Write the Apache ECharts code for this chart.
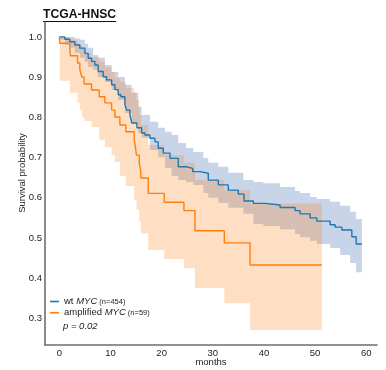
<!DOCTYPE html>
<html><head><meta charset="utf-8">
<script src="https://cdn.jsdelivr.net/npm/echarts@6/dist/echarts.min.js"></script>
<style>html,body{margin:0;padding:0;background:#fff}#c{width:386px;height:370px}</style>
</head><body><div id="c"></div>
<script>
// ---- data ----
const xTicks = [0, 10, 20, 30, 40, 50, 60];
const yTicks = [0.3, 0.4, 0.5, 0.6, 0.7, 0.8, 0.9, 1.0];
const groupNames = ['wt', 'amplified'];
const geneName = 'MYC';
const groupCounts = [454, 59];
const pValueText = 'p = 0.02';

// wt MYC Kaplan-Meier estimate (months, survival)
const wtTime = [0, 1.08, 2.05, 3.03, 4.01, 4.99, 5.64, 6.30, 6.95, 7.59, 8.57, 9.24, 10.22, 10.86, 11.51, 12.04, 12.82, 13.15, 13.80, 14.19, 15.17, 16.09, 16.73, 17.71, 18.69, 19.33, 20.31, 21.64, 23.25, 24.89, 26.07, 27.50, 29.12, 31.08, 33.03, 34.99, 36.11, 37.93, 40.22, 43.15, 46.09, 47.06, 49.02, 50.33, 52.94, 53.91, 55.23, 57.18, 58.02, 59.14];
const wtSurv = [1.0, 0.994, 0.988, 0.980, 0.972, 0.959, 0.947, 0.939, 0.930, 0.914, 0.901, 0.893, 0.881, 0.869, 0.856, 0.851, 0.831, 0.818, 0.806, 0.786, 0.774, 0.761, 0.756, 0.748, 0.739, 0.723, 0.711, 0.698, 0.677, 0.673, 0.665, 0.661, 0.644, 0.632, 0.619, 0.609, 0.592, 0.586, 0.582, 0.576, 0.568, 0.560, 0.550, 0.542, 0.533, 0.527, 0.520, 0.503, 0.485, 0.485];
// wt MYC confidence band
const wtBandTime = [0, 1.08, 2.05, 3.03, 4.01, 4.99, 5.64, 6.61, 7.59, 8.90, 10.22, 11.51, 12.82, 14.13, 15.42, 16.09, 17.71, 19.33, 20.65, 21.96, 23.25, 24.76, 26.18, 28.14, 29.12, 31.08, 33.03, 35.97, 37.93, 39.88, 43.15, 46.09, 47.06, 49.02, 50.33, 52.94, 54.89, 56.85, 58.02, 59.14];
const wtBandUpper = [1.0, 1.0, 1.0, 0.996, 0.993, 0.983, 0.973, 0.955, 0.948, 0.930, 0.913, 0.900, 0.881, 0.861, 0.826, 0.806, 0.789, 0.774, 0.764, 0.756, 0.736, 0.724, 0.714, 0.699, 0.687, 0.677, 0.662, 0.644, 0.639, 0.636, 0.627, 0.617, 0.612, 0.602, 0.597, 0.590, 0.580, 0.565, 0.547, 0.547];
const wtBandLower = [0.993, 0.980, 0.973, 0.960, 0.948, 0.938, 0.925, 0.918, 0.900, 0.888, 0.868, 0.843, 0.811, 0.784, 0.761, 0.749, 0.719, 0.701, 0.674, 0.654, 0.644, 0.639, 0.632, 0.612, 0.600, 0.587, 0.575, 0.560, 0.535, 0.530, 0.522, 0.510, 0.502, 0.493, 0.485, 0.475, 0.458, 0.438, 0.415, 0.415];

// amplified MYC Kaplan-Meier estimate
const ampTime = [0, 0.10, 2.05, 2.15, 3.56, 4.01, 4.40, 4.85, 6.30, 7.79, 8.90, 10.22, 10.86, 11.84, 13.01, 14.64, 14.87, 15.07, 15.62, 15.89, 15.95, 17.38, 20.51, 24.36, 26.52, 32.25, 37.28, 51.31];
const ampSurv = [1.0, 0.984, 0.968, 0.953, 0.935, 0.918, 0.900, 0.883, 0.868, 0.851, 0.836, 0.818, 0.801, 0.781, 0.764, 0.746, 0.726, 0.706, 0.687, 0.669, 0.649, 0.611, 0.589, 0.568, 0.518, 0.488, 0.433, 0.433];
// amplified MYC confidence band
const ampBandTime = [0, 0.10, 2.05, 3.56, 4.01, 4.40, 4.85, 6.30, 7.79, 8.90, 10.22, 10.86, 11.84, 13.01, 14.64, 15.07, 15.62, 15.95, 17.38, 20.51, 24.36, 26.52, 32.25, 37.28, 51.31];
const ampBandUpper = [1.0, 1.0, 0.993, 0.985, 0.978, 0.970, 0.960, 0.950, 0.938, 0.925, 0.913, 0.898, 0.888, 0.873, 0.863, 0.843, 0.806, 0.781, 0.731, 0.706, 0.687, 0.644, 0.619, 0.585, 0.585];
const ampBandLower = [1.0, 0.891, 0.861, 0.836, 0.818, 0.801, 0.791, 0.776, 0.744, 0.726, 0.706, 0.689, 0.654, 0.629, 0.595, 0.570, 0.540, 0.512, 0.470, 0.448, 0.425, 0.376, 0.338, 0.271, 0.271];

// ---- chart ----
const FONT = '"Liberation Sans", Arial, sans-serif';
const BLUE = '#1f77b4', ORANGE = '#ff7f0e';
const pairs = (xs, ys) => xs.map((x, i) => [x, ys[i]]);

// confidence band as one step-shaped polygon, positioned through the axes (api.coord)
function bandSeries(name, times, lower, upper, fill) {
  const rows = times.map((t, i) => [t, lower[i], upper[i]]);
  return {
    name: name, type: 'custom', silent: true, z: 1,
    encode: { x: 0, y: [1, 2] },
    data: rows,
    renderItem: function (params, api) {
      if (params.dataIndex !== 0) return null;
      const top = [], bot = [];
      for (let i = 0; i < rows.length; i++) {
        const tNext = i + 1 < rows.length ? rows[i + 1][0] : rows[i][0];
        top.push(api.coord([rows[i][0], rows[i][2]]), api.coord([tNext, rows[i][2]]));
        bot.push(api.coord([rows[i][0], rows[i][1]]), api.coord([tNext, rows[i][1]]));
      }
      return {
        type: 'polygon',
        shape: { points: top.concat(bot.reverse()) },
        style: { fill: fill, stroke: null }
      };
    }
  };
}

const legendNames = groupNames.map(g => g + ' ' + geneName);

const chart = echarts.init(document.getElementById('c'), null, { renderer: 'canvas' });
chart.setOption({
  animation: false,
  backgroundColor: '#fff',
  textStyle: { fontFamily: FONT },
  grid: { left: 45, right: 9, top: 22, bottom: 25, containLabel: false, outerBoundsMode: 'none' },
  xAxis: {
    type: 'value', min: -2.8, max: 62.1,
    axisLine: { onZero: false, lineStyle: { color: '#6e6e6e', width: 1.6 } },
    axisTick: { show: false },
    splitLine: { show: false },
    axisLabel: { customValues: xTicks, fontSize: 9.5, color: '#222', margin: 3, fontFamily: FONT },
    name: 'months', nameLocation: 'middle', nameGap: 12, nameMoveOverlap: false,
    nameTextStyle: { fontSize: 9.5, color: '#222', fontFamily: FONT }
  },
  yAxis: {
    type: 'value', min: 0.234, max: 1.037,
    axisLine: { show: true, onZero: false, lineStyle: { color: '#6e6e6e', width: 1.6 } },
    axisTick: { show: false },
    splitLine: { show: false },
    axisLabel: { customValues: yTicks, fontSize: 9.5, color: '#222', margin: 3, fontFamily: FONT,
      formatter: v => v.toFixed(1) }
  },
  legend: {
    orient: 'vertical', left: 50, top: 296.5, padding: 0,
    data: legendNames,
    icon: 'rect', itemWidth: 9, itemHeight: 1.6, itemGap: 1.2,
    textStyle: {
      fontFamily: FONT, color: '#222',
      rich: {
        a: { fontSize: 9.5, lineHeight: 11, color: '#222', fontFamily: FONT },
        i: { fontSize: 9.5, lineHeight: 11, fontStyle: 'italic', color: '#222', fontFamily: FONT },
        s: { fontSize: 7.5, lineHeight: 11, color: '#222', fontFamily: FONT }
      }
    },
    formatter: name => {
      const k = legendNames.indexOf(name);
      return '{a|' + groupNames[k] + ' }{i|' + geneName + '}{s| (n=' + groupCounts[k] + ')}';
    }
  },
  graphic: [
    { type: 'text', left: 43, top: 9,
      style: { text: 'TCGA-HNSC', fontSize: 12.2, fontWeight: 'bold', fill: '#111', fontFamily: FONT } },
    { type: 'line', shape: { x1: 43, y1: 21.5, x2: 116, y2: 21.5 }, style: { stroke: '#111', lineWidth: 1 } },
    { type: 'text', x: 22, y: 173, rotation: Math.PI / 2,
      style: { text: 'Survival probability', fontSize: 9.5, fill: '#222', fontFamily: FONT,
        textAlign: 'center', textVerticalAlign: 'middle' } },
    { type: 'text', left: 63, top: 321.5,
      style: { text: pValueText, fontSize: 9.5, fontStyle: 'italic', fill: '#222', fontFamily: FONT } }
  ],
  series: [
    bandSeries('wt band', wtBandTime, wtBandLower, wtBandUpper, 'rgb(200,212,232)'),
    bandSeries('amp band', ampBandTime, ampBandLower, ampBandUpper, 'rgba(255,127,14,0.25)'),
    { name: legendNames[0], type: 'line', step: 'end', symbol: 'none', color: BLUE,
      lineStyle: { color: BLUE, width: 1.4 }, data: pairs(wtTime, wtSurv), z: 3 },
    { name: legendNames[1], type: 'line', step: 'end', symbol: 'none', color: ORANGE,
      lineStyle: { color: ORANGE, width: 1.4 }, data: pairs(ampTime, ampSurv), z: 3 }
  ]
});
</script></body></html>
